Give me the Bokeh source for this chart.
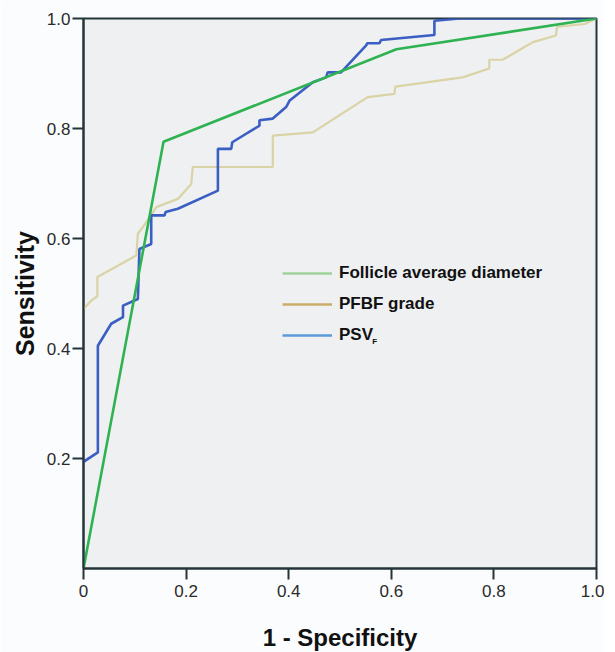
from bokeh.plotting import figure
from bokeh.models import Range1d, FixedTicker, Legend, LegendItem, Label
from bokeh.embed import file_html
from bokeh.resources import INLINE

# ---- data ----
fad_x = [0.0, 0.156, 0.61, 1.0]
fad_y = [0.0, 0.776, 0.944, 1.0]

pfbf_x = [0.0, 0.015, 0.027, 0.027, 0.103, 0.106, 0.116, 0.142, 0.184, 0.210, 0.213,
          0.369, 0.369, 0.447, 0.554, 0.606, 0.608, 0.739, 0.791, 0.791, 0.817,
          0.876, 0.921, 0.923, 0.977, 1.0]
pfbf_y = [0.472, 0.487, 0.495, 0.530, 0.569, 0.609, 0.621, 0.657, 0.672, 0.699, 0.730,
          0.730, 0.787, 0.793, 0.857, 0.863, 0.876, 0.893, 0.909, 0.925, 0.925,
          0.957, 0.969, 0.985, 0.990, 1.0]

psv_x = [0.0, 0.028, 0.028, 0.054, 0.077, 0.077, 0.106, 0.109, 0.132, 0.132, 0.158,
         0.160, 0.184, 0.262, 0.262, 0.288, 0.290, 0.343, 0.343, 0.369, 0.395, 0.402,
         0.447, 0.473, 0.476, 0.502, 0.551, 0.553, 0.577, 0.580, 0.684, 0.684, 0.733, 1.0]
psv_y = [0.194, 0.211, 0.405, 0.445, 0.457, 0.478, 0.490, 0.581, 0.590, 0.642, 0.642,
         0.648, 0.654, 0.687, 0.763, 0.763, 0.775, 0.805, 0.815, 0.818, 0.839, 0.851,
         0.884, 0.893, 0.902, 0.902, 0.951, 0.955, 0.955, 0.961, 0.970, 0.996, 1.0, 1.0]

x_ticks = [0, 0.2, 0.4, 0.6, 0.8, 1.0]
x_tick_labels = ["0", "0.2", "0.4", "0.6", "0.8", "1.0"]
y_ticks = [0.2, 0.4, 0.6, 0.8, 1.0]
y_tick_labels = ["0.2", "0.4", "0.6", "0.8", "1.0"]

legend_labels = ["Follicle average diameter", "PFBF grade", "PSV"]
legend_colors = ["#9fd39b", "#c9ad68", "#5d9ad8"]

FONT = "Liberation Sans"
NAN = float("nan")

p = figure(frame_width=513, frame_height=550,
           x_range=Range1d(0, 1), y_range=Range1d(0, 1),
           output_backend="svg", toolbar_location=None,
           min_border_left=83, min_border_top=18, min_border_right=8, min_border_bottom=76)

p.background_fill_color = "#eef0f1"
p.border_fill_color = "#fbfcfd"
p.outline_line_color = "#25343a"
p.outline_line_width = 2
p.xgrid.visible = False
p.ygrid.visible = False

for ax, ticks, labels in ((p.xaxis[0], x_ticks, x_tick_labels), (p.yaxis[0], y_ticks, y_tick_labels)):
    ax.ticker = FixedTicker(ticks=ticks)
    ax.major_label_overrides = {t: l for t, l in zip(ticks, labels)}
    ax.minor_tick_line_color = None
    ax.major_tick_in = 0
    ax.major_tick_out = 11
    ax.major_tick_line_color = "#25343a"
    ax.major_tick_line_width = 2
    ax.axis_line_color = "#25343a"
    ax.axis_line_width = 2
    ax.major_label_text_font = FONT
    ax.major_label_text_font_size = "17px"
    ax.major_label_text_color = "#2a2a2a"
    ax.axis_label_text_font = FONT
    ax.axis_label_text_font_style = "bold"
    ax.axis_label_text_color = "#111111"

p.xaxis.axis_label = "1 - Specificity"
p.xaxis.axis_label_text_font_size = "24px"
p.xaxis.major_label_standoff = 5
p.xaxis.axis_label_standoff = 24
p.yaxis.axis_label = "Sensitivity"
p.yaxis.axis_label_text_font_size = "25px"
p.yaxis.major_label_standoff = 2
p.yaxis.axis_label_standoff = 5

p.line(pfbf_x, pfbf_y, line_color="#d9d3a6", line_width=2.2)
p.line(psv_x, psv_y, line_color="#3a5ec4", line_width=2.6)
p.line(fad_x, fad_y, line_color="#2fb352", line_width=2.6)

dummies = [p.line([NAN], [NAN], line_color=c, line_width=2.6) for c in legend_colors]
legend = Legend(items=[LegendItem(label=l, renderers=[r]) for l, r in zip(legend_labels, dummies)],
                location=(199, 223), orientation="vertical",
                glyph_width=50, glyph_height=20, label_height=20, spacing=11,
                label_standoff=7, padding=0, margin=0,
                border_line_color=None, background_fill_alpha=0,
                label_text_font=FONT, label_text_font_style="bold",
                label_text_font_size="17px", label_text_color="#111111")
p.add_layout(legend)

p.add_layout(Label(x=0.563, y=0.404, text="F", text_font=FONT, text_font_style="bold",
                   text_font_size="8px", text_color="#111111"))

open("out.html", "w").write(file_html(p, INLINE))
